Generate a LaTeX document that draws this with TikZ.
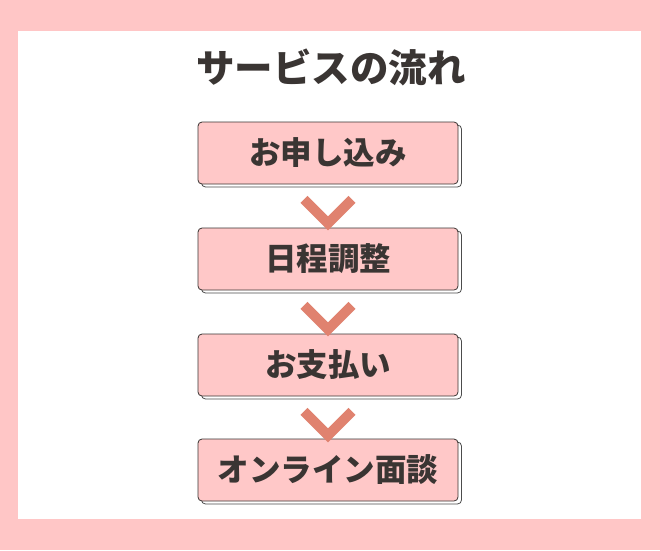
\documentclass[tikz,border=0pt]{standalone}
\usepackage{fontspec}
\newfontfamily\cjk{Noto Sans CJK JP}
\usetikzlibrary{shadows,calc}

\definecolor{bgpink}{HTML}{FFC6C6}
\definecolor{boxpink}{HTML}{FFC8C8}
\definecolor{chevron}{HTML}{E0826F}
\definecolor{inkgray}{HTML}{3A3533}

\begin{document}
\begin{tikzpicture}[x=1pt, y=-1pt,
    stepbox/.style={draw=inkgray, line width=0.8pt, fill=boxpink, rounded corners=4pt,
        minimum width=260pt, minimum height=62pt, inner sep=0pt,
        text=inkgray, font=\cjk\bfseries\fontsize{31.5}{36}\selectfont,
        copy shadow={shadow xshift=3.5pt, shadow yshift=-3pt, fill=white, draw=black!70, line width=0.8pt}},
    chev/.style={draw=chevron, line width=10pt, miter limit=4}]

    % ===== BACKGROUND =====
    \fill[bgpink] (0, 0) rectangle (660, 550);
    \fill[white] (18, 31) rectangle (641, 519);

    % ===== TITLE =====
    \node[text=inkgray, font=\cjk\bfseries\fontsize{38.5}{44}\selectfont] (title) at (331, 67) {サービスの流れ};

    % ===== STEPS =====
    \node[stepbox] (apply) at (328, 153) {お申し込み};
    \node[stepbox] (schedule) at (328, 259) {日程調整};
    \node[stepbox] (payment) at (328, 365) {お支払い};
    \node[stepbox] (meeting) at (328, 470) {オンライン面談};

    % Chevrons between steps
    \draw[chev] ($(apply.south)+(-24, 15)$) -- ($(apply.south)+(0, 39)$) -- ($(apply.south)+(24, 15)$);
    \draw[chev] ($(schedule.south)+(-24, 15)$) -- ($(schedule.south)+(0, 39)$) -- ($(schedule.south)+(24, 15)$);
    \draw[chev] ($(payment.south)+(-24, 15)$) -- ($(payment.south)+(0, 39)$) -- ($(payment.south)+(24, 15)$);
\end{tikzpicture}
\end{document}
